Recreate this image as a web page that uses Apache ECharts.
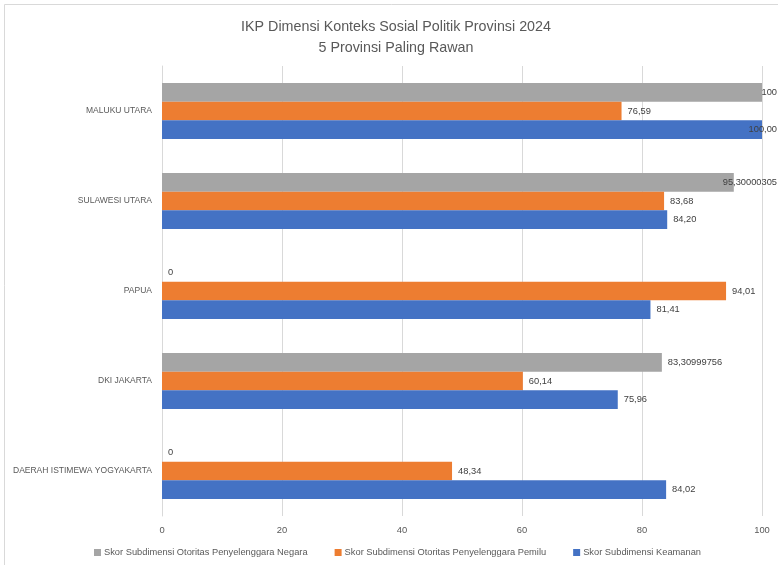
<!DOCTYPE html>
<html>
<head>
<meta charset="utf-8">
<script src="https://cdn.jsdelivr.net/npm/echarts@6/dist/echarts.min.js"></script>
<style>
html, body { margin: 0; padding: 0; background: #fff; }
#chart { width: 778px; height: 565px; }
</style>
</head>
<body>
<div id="chart"></div>
<script>
var provinces = ['MALUKU UTARA', 'SULAWESI UTARA', 'PAPUA', 'DKI JAKARTA', 'DAERAH ISTIMEWA YOGYAKARTA'];
var negara = [100, 95.30000305, 0, 83.30999756, 0];
var pemilu = [76.59, 83.68, 94.01, 60.14, 48.34];
var keamanan = [100, 84.20, 81.41, 75.96, 84.02];
var xTicks = [0, 20, 40, 60, 80, 100];

var seriesNames = [
    'Skor Subdimensi Otoritas Penyelenggara Negara',
    'Skor Subdimensi Otoritas Penyelenggara Pemilu',
    'Skor Subdimensi Keamanan'
];

var myChart = echarts.init(document.getElementById('chart'));

function rawLabel(p) { return String(p.value).replace('.', ','); }
function fixedLabel(p) { return p.value.toFixed(2).replace('.', ','); }

function barSeries(name, data, color, fmt) {
    return {
        name: name,
        type: 'bar',
        data: data,
        barGap: '0%',
        barCategoryGap: '38%',
        itemStyle: { color: color },
        label: {
            show: true,
            position: 'right',
            distance: 6,
            color: '#404040',
            fontFamily: 'Liberation Sans',
            fontSize: 9.3,
            formatter: fmt
        },
        labelLayout: function (params) {
            var r = params.labelRect;
            var over = r.x + r.width - 777;
            return over > 0 ? { dx: -over } : {};
        }
    };
}

var option = {
    textStyle: { fontFamily: 'Liberation Sans' },
    title: {
        text: 'IKP Dimensi Konteks Sosial Politik Provinsi 2024\n5 Provinsi Paling Rawan',
        left: 391,
        textAlign: 'center',
        top: 12,
        textStyle: {
            fontFamily: 'Liberation Sans',
            fontWeight: 'normal',
            fontSize: 14.3,
            lineHeight: 21,
            color: '#595959'
        }
    },
    graphic: [{
        type: 'rect',
        shape: { x: 4.5, y: 4.5, width: 800, height: 600 },
        style: { fill: 'none', stroke: '#d9d9d9', lineWidth: 1 },
        silent: true
    }],
    legend: {
        data: seriesNames,
        left: 89,
        bottom: 3,
        itemWidth: 7,
        itemHeight: 7,
        itemGap: 27,
        icon: 'rect',
        textStyle: { fontFamily: 'Liberation Sans', fontSize: 9.3, color: '#595959', padding: [0, 0, 0, -2] }
    },
    grid: { left: 162, right: 16, top: 66, bottom: 49 },
    xAxis: {
        type: 'value',
        min: xTicks[0],
        max: xTicks[xTicks.length - 1],
        interval: xTicks[1] - xTicks[0],
        axisLine: { show: false },
        axisTick: { show: false },
        axisLabel: { color: '#595959', fontSize: 9.4, margin: 10 },
        splitLine: { lineStyle: { color: '#d9d9d9' } }
    },
    yAxis: {
        type: 'category',
        data: provinces,
        inverse: true,
        axisLine: { lineStyle: { color: '#d9d9d9' } },
        axisTick: { show: false },
        axisLabel: { color: '#595959', fontSize: 8.5, margin: 10 }
    },
    series: [
        barSeries(seriesNames[0], negara, '#A5A5A5', rawLabel),
        barSeries(seriesNames[1], pemilu, '#ED7D31', fixedLabel),
        barSeries(seriesNames[2], keamanan, '#4472C4', fixedLabel)
    ]
};
myChart.setOption(option);
</script>
</body>
</html>
